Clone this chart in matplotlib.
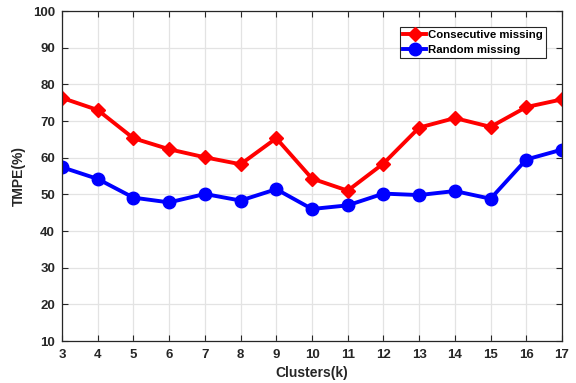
import matplotlib
matplotlib.use("Agg")
import matplotlib.pyplot as plt

plt.rcParams['font.family'] = ['Liberation Sans', 'DejaVu Sans']
plt.rcParams['font.weight'] = 'bold'

clusters = list(range(3, 18))
consecutive = [76.3, 73.0, 65.3, 62.3, 60.1, 58.2, 65.3, 54.3, 51.0, 58.4, 68.2, 70.8, 68.4, 73.8, 75.9]
random_missing = [57.4, 54.2, 49.1, 47.8, 50.1, 48.3, 51.4, 46.0, 47.0, 50.2, 49.8, 50.9, 48.8, 59.5, 62.2]
yticks = list(range(10, 101, 10))

fig = plt.figure(figsize=(5.76, 3.83), dpi=100)
ax = fig.add_axes([62/576, 1-341/383, 500/576, 330/383])

ax.plot(clusters, consecutive, color='#ff0000', lw=2.8, marker='D', ms=7,
        label='Consecutive missing')
ax.plot(clusters, random_missing, color='#0000ff', lw=2.8, marker='o', ms=9,
        label='Random missing')

ax.set_xlim(3, 17)
ax.set_ylim(10, 100)
ax.set_xticks(clusters)
ax.set_yticks(yticks)
ax.grid(True, color='#e3e3e3', lw=0.9)
ax.set_axisbelow(True)
ax.tick_params(direction='in', top=True, right=True, labelsize=9.5, length=4,
               width=0.8, colors='#262626', labelcolor='#262626')
ax.tick_params(axis='x', pad=5.5)
ax.tick_params(axis='y', pad=5)
for s in ax.spines.values():
    s.set_color('#262626')
    s.set_linewidth(0.9)
for lbl in ax.get_xticklabels() + ax.get_yticklabels():
    lbl.set_fontweight('bold')

ax.set_xlabel('Clusters(k)', fontsize=10, fontweight='bold', color='#262626', labelpad=4)
ax.set_ylabel('TMPE(%)', fontsize=10, fontweight='bold', color='#262626', labelpad=5)

leg = ax.legend(loc='upper right', bbox_to_anchor=(484/500, 1-16/330), fontsize=8.2,
                frameon=True, fancybox=False, edgecolor='#262626', framealpha=1,
                handlelength=2.0, handletextpad=0.15, borderpad=0.3, labelspacing=0.4,
                borderaxespad=0)
leg.get_frame().set_linewidth(0.8)
for t in leg.get_texts():
    t.set_fontweight('bold')

fig.savefig('out.png', dpi=100)
